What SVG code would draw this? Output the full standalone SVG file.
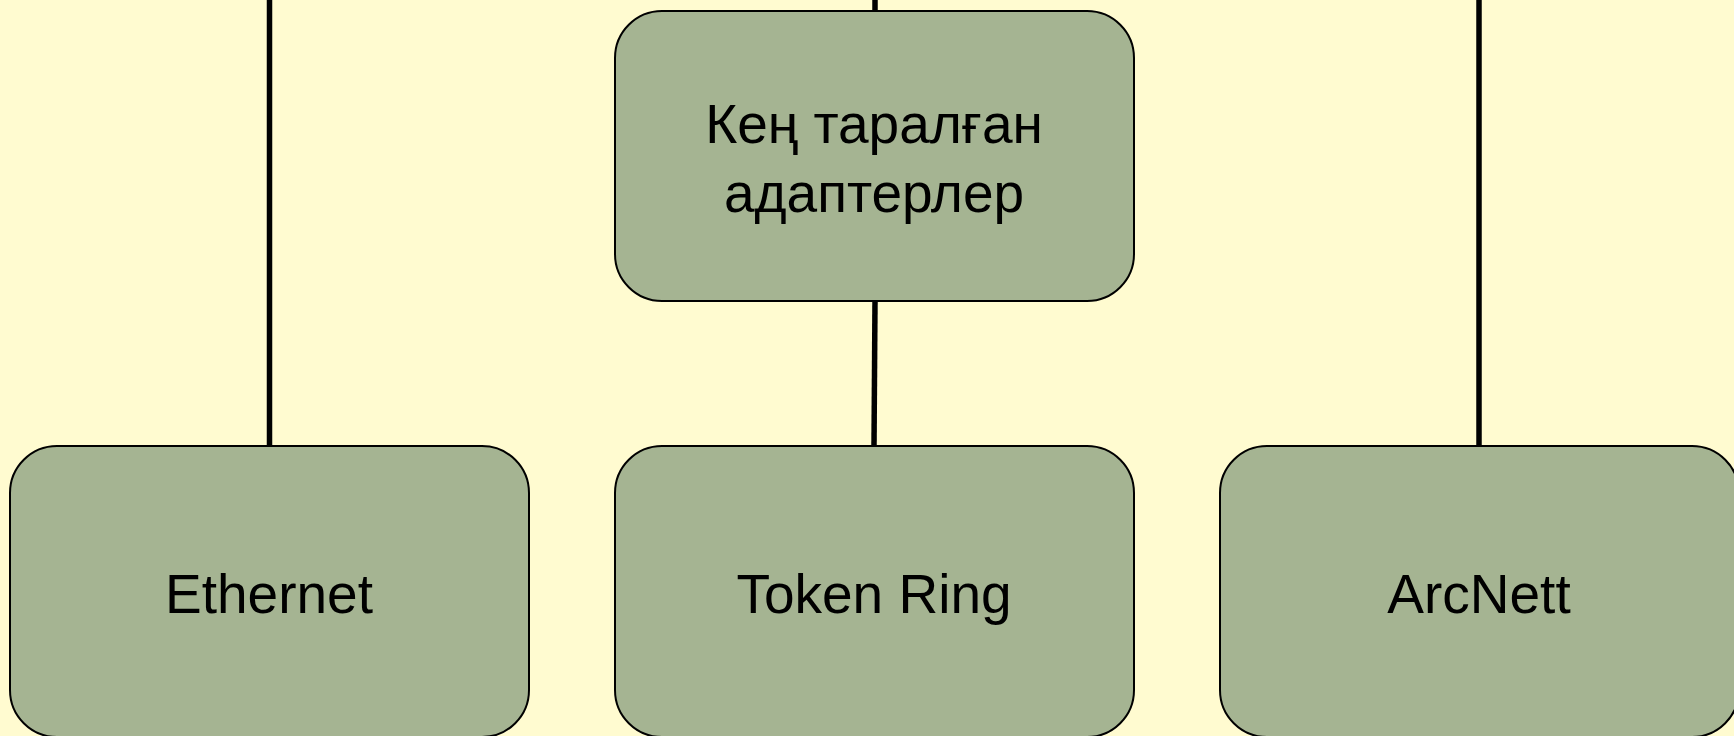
<svg xmlns="http://www.w3.org/2000/svg" width="1734" height="736" viewBox="0 0 1734 736">
<style>
.node rect{fill:#a5b492;stroke:#000;stroke-width:2}
.node text{font-family:"Liberation Sans",Arial,sans-serif;font-size:55px;fill:#000;text-anchor:middle}
.conn line{stroke:#000;stroke-width:5.5;fill:none}
</style>
<rect x="0" y="0" width="1734" height="736" fill="#fffbd0"/>
<g id="connectors" class="conn">
<line x1="269.5" y1="0" x2="269.5" y2="446"/>
<line x1="875" y1="0" x2="875" y2="11"/>
<line x1="875" y1="301" x2="874" y2="446"/>
<line x1="1479" y1="0" x2="1479" y2="446"/>
</g>
<g id="node-top" class="node">
<rect x="615" y="11" width="519" height="290" rx="47" ry="47"/>
<text x="874" y="143">Кең таралған</text>
<text x="874" y="212">адаптерлер</text>
</g>
<g id="node-ethernet" class="node">
<rect x="10" y="446" width="519" height="291" rx="47" ry="47"/>
<text x="269" y="613">Ethernet</text>
</g>
<g id="node-tokenring" class="node">
<rect x="615" y="446" width="519" height="291" rx="47" ry="47"/>
<text x="874" y="613">Token Ring</text>
</g>
<g id="node-arcnett" class="node">
<rect x="1220" y="446" width="519" height="291" rx="47" ry="47"/>
<text x="1479" y="613">ArcNett</text>
</g>
</svg>
